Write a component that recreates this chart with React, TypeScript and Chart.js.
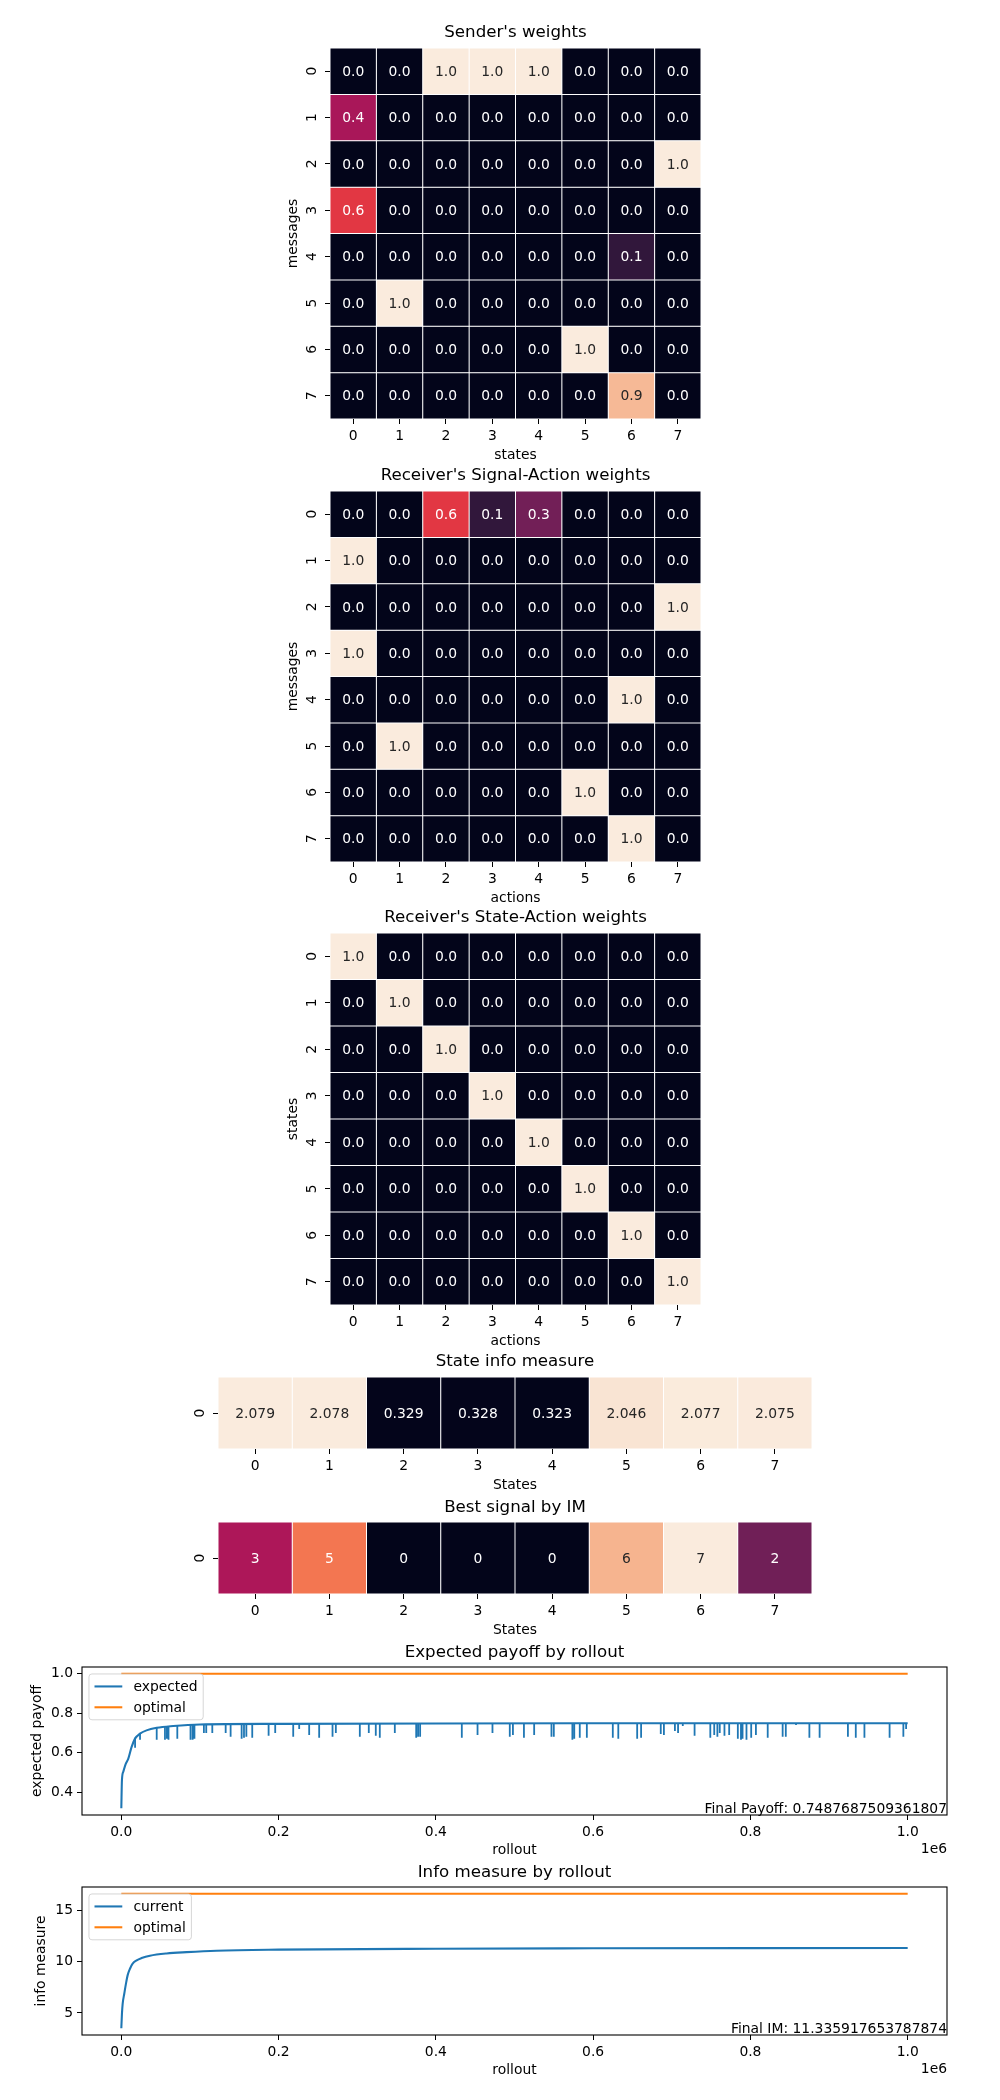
import React, { useEffect, useRef } from 'react';
import { Chart, registerables } from 'chart.js';

Chart.register(...registerables);

const FONT = "'DejaVu Sans', 'Liberation Sans', sans-serif";
const PT10 = 13.89;
const PT12 = 16.67;
const BLUE = '#1f77b4';
const ORANGE = '#ff7f0e';
const ANNOT_DARK = '#262626';

// ---------------- data ----------------
const stateTicks = ['0', '1', '2', '3', '4', '5', '6', '7'];
const messageTicks = ['0', '1', '2', '3', '4', '5', '6', '7'];
const actionTicks = ['0', '1', '2', '3', '4', '5', '6', '7'];
const singleRowTicks = ['0'];

const senderWeights = [
  [0, 0, 1, 1, 1, 0, 0, 0],
  [0.42, 0, 0, 0, 0, 0, 0, 0],
  [0, 0, 0, 0, 0, 0, 0, 1],
  [0.58, 0, 0, 0, 0, 0, 0, 0],
  [0, 0, 0, 0, 0, 0, 0.13, 0],
  [0, 1, 0, 0, 0, 0, 0, 0],
  [0, 0, 0, 0, 0, 1, 0, 0],
  [0, 0, 0, 0, 0, 0, 0.87, 0],
];

const signalActionWeights = [
  [0, 0, 0.58, 0.13, 0.29, 0, 0, 0],
  [1, 0, 0, 0, 0, 0, 0, 0],
  [0, 0, 0, 0, 0, 0, 0, 1],
  [1, 0, 0, 0, 0, 0, 0, 0],
  [0, 0, 0, 0, 0, 0, 1, 0],
  [0, 1, 0, 0, 0, 0, 0, 0],
  [0, 0, 0, 0, 0, 1, 0, 0],
  [0, 0, 0, 0, 0, 0, 1, 0],
];

const stateActionWeights = [
  [1, 0, 0, 0, 0, 0, 0, 0],
  [0, 1, 0, 0, 0, 0, 0, 0],
  [0, 0, 1, 0, 0, 0, 0, 0],
  [0, 0, 0, 1, 0, 0, 0, 0],
  [0, 0, 0, 0, 1, 0, 0, 0],
  [0, 0, 0, 0, 0, 1, 0, 0],
  [0, 0, 0, 0, 0, 0, 1, 0],
  [0, 0, 0, 0, 0, 0, 0, 1],
];

const stateInfoMeasure = [[2.079, 2.078, 0.329, 0.328, 0.323, 2.046, 2.077, 2.075]];
const bestSignalByIM = [[3, 5, 0, 0, 0, 6, 7, 2]];

const rolloutTicks = [0, 200000, 400000, 600000, 800000, 1000000];
const payoffTicks = [0.4, 0.6, 0.8, 1.0];
const infoTicks = [5, 10, 15];

const payoffRollout = [0, 800, 2500, 5900, 8900, 13100, 17400, 23700, 32000, 45000, 66000, 100000, 200000, 400000, 600000, 800000, 1000000];
const payoffValue = [0.318, 0.461, 0.503, 0.545, 0.57, 0.629, 0.671, 0.696, 0.713, 0.726, 0.735, 0.743, 0.746, 0.748, 0.749, 0.749, 0.7488];
const optimalPayoff = 1.0;

const dipRollout = [
  17500, 23800, 45000, 55500, 58000, 60000, 71200, 88000, 90700, 93000,
  105000, 108000, 115700, 132700, 139000, 153000, 156000, 159000, 166500, 187300,
  195700, 218600, 226200, 238900, 251600, 268600, 272800, 303300, 314700, 323600,
  328700, 347800, 375000, 377400, 380000, 433000, 453000, 472000, 494000, 498000,
  512000, 525000, 547000, 550000, 573600, 576000, 583000, 592000, 625000, 632000,
  656000, 661000, 686000, 690000, 704000, 708000, 714000, 729000, 749000, 754000,
  758000, 761000, 767000, 773000, 784000, 788000, 790000, 795000, 801000, 807000,
  822000, 841000, 845000, 858000, 875000, 888000, 924000, 934000, 945000, 977000,
  994500, 998000,
];
const dipTop = [
  0.675, 0.696, 0.726, 0.731, 0.732, 0.733, 0.736, 0.741, 0.741, 0.742,
  0.743, 0.743, 0.744, 0.744, 0.744, 0.745, 0.745, 0.745, 0.745, 0.746,
  0.746, 0.746, 0.746, 0.746, 0.746, 0.746, 0.746, 0.747, 0.747, 0.747,
  0.747, 0.747, 0.748, 0.748, 0.748, 0.748, 0.748, 0.748, 0.748, 0.748,
  0.748, 0.748, 0.749, 0.749, 0.749, 0.749, 0.749, 0.749, 0.749, 0.749,
  0.749, 0.749, 0.749, 0.749, 0.749, 0.749, 0.749, 0.749, 0.749, 0.749,
  0.749, 0.749, 0.749, 0.749, 0.749, 0.749, 0.749, 0.749, 0.749, 0.749,
  0.749, 0.749, 0.749, 0.749, 0.749, 0.749, 0.749, 0.749, 0.749, 0.749,
  0.749, 0.749,
];
const dipLow = [
  0.625, 0.665, 0.665, 0.665, 0.67, 0.665, 0.67, 0.665, 0.665, 0.67,
  0.7, 0.7, 0.7, 0.7, 0.68, 0.67, 0.675, 0.68, 0.675, 0.685,
  0.7, 0.68, 0.72, 0.69, 0.675, 0.68, 0.7, 0.68, 0.7, 0.685,
  0.675, 0.7, 0.675, 0.68, 0.68, 0.675, 0.69, 0.7, 0.68, 0.69,
  0.675, 0.69, 0.68, 0.68, 0.665, 0.67, 0.675, 0.675, 0.675, 0.67,
  0.67, 0.675, 0.695, 0.69, 0.71, 0.7, 0.735, 0.685, 0.675, 0.69,
  0.68, 0.7, 0.685, 0.69, 0.67, 0.665, 0.67, 0.665, 0.675, 0.69,
  0.675, 0.68, 0.68, 0.74, 0.675, 0.675, 0.68, 0.675, 0.675, 0.675,
  0.68, 0.72,
];

const imRollout = [0, 800, 1700, 3800, 5900, 8000, 11000, 14400, 19500, 25800, 36400, 57600, 83000, 121000, 200000, 400000, 600000, 800000, 1000000];
const imValue = [3.51, 4.94, 5.9, 6.9, 7.86, 8.67, 9.32, 9.81, 10.14, 10.36, 10.59, 10.81, 10.94, 11.08, 11.18, 11.27, 11.31, 11.33, 11.336];
const optimalIM = 16.636;

const finalPayoffText = 'Final Payoff: 0.7487687509361807';
const finalIMText = 'Final IM: 11.335917653787874';

// ---------------- layout ----------------
const HM_BOX = {
  sender: { L: 330, T: 48, R: 701, B: 419, titleY: 33, yTitleX: 293 },
  signalAction: { L: 330, T: 491, R: 701, B: 862, titleY: 476, yTitleX: 293 },
  stateAction: { L: 330, T: 933, R: 701, B: 1305, titleY: 918, yTitleX: 293 },
  stateInfo: { L: 218, T: 1377, R: 812, B: 1449, titleY: 1362, yTitleX: 0 },
  bestSignal: { L: 218, T: 1522, R: 812, B: 1594, titleY: 1508, yTitleX: 0 },
};
const LINE_BOX = {
  payoff: { L: 82, T: 1667, R: 947, B: 1815, titleY: 1653, yTitleX: 37 },
  info: { L: 82, T: 1887, R: 947, B: 2035, titleY: 1873, yTitleX: 41 },
};
const BELOW = 50;

// ---------------- helpers ----------------
const ROCKET = ['#03051a', '#35193e', '#701f57', '#ad1759', '#e13342', '#f37651', '#f6b48f', '#faebdd'];
function hexRgb(h: string) {
  return [parseInt(h.slice(1, 3), 16), parseInt(h.slice(3, 5), 16), parseInt(h.slice(5, 7), 16)];
}
function rocket(t: number) {
  const c = Math.min(1, Math.max(0, t));
  const s = c * (ROCKET.length - 1);
  const i = Math.min(Math.floor(s), ROCKET.length - 2);
  const f = s - i;
  const a = hexRgb(ROCKET[i]);
  const b = hexRgb(ROCKET[i + 1]);
  const m = a.map((v, k) => Math.round(v + (b[k] - v) * f));
  return `rgb(${m[0]},${m[1]},${m[2]})`;
}
function textColorFor(rgb: string) {
  const m = rgb.match(/\d+/g)!.map(Number).map((v) => v / 255);
  const lin = m.map((v) => (v <= 0.03928 ? v / 12.92 : Math.pow((v + 0.055) / 1.055, 2.4)));
  const lum = 0.2126 * lin[0] + 0.7152 * lin[1] + 0.0722 * lin[2];
  return lum > 0.408 ? ANNOT_DARK : '#ffffff';
}

function geometry(box: any) {
  const top = box.titleY - 22;
  const height = box.B + BELOW - top;
  return { top, height };
}

function titleOpts(text: string, box: any, top: number) {
  const half = PT12 * 0.6;
  return {
    display: true,
    fullSize: false,
    text,
    color: '#000',
    font: { family: FONT, size: PT12, weight: 'normal' as const, lineHeight: 1.2 },
    padding: { top: box.titleY - top - half, bottom: box.T - box.titleY - half },
  };
}

const tickFont = { family: FONT, size: PT10 };
const tickGrid = {
  display: true,
  drawOnChartArea: false,
  drawTicks: true,
  tickLength: 5,
  tickWidth: 1,
  tickColor: '#000',
  offset: false,
};

function heatmapPlugin(digits: number, yTicks: string[]) {
  return {
    id: 'heatmapAnnot',
    afterDatasetsDraw(chart: any) {
      const { ctx, chartArea } = chart;
      ctx.save();
      ctx.font = `${PT10}px ${FONT}`;
      ctx.textAlign = 'center';
      ctx.textBaseline = 'middle';
      chart.data.datasets.forEach((ds: any, i: number) => {
        const meta = chart.getDatasetMeta(i);
        meta.data.forEach((el: any, j: number) => {
          const p = el.getCenterPoint();
          ctx.fillStyle = textColorFor(ds.backgroundColor[j]);
          ctx.fillText(Number(ds.values[j]).toFixed(digits), p.x, p.y + 1);
        });
      });
      const ys = chart.scales.y;
      ys.ticks.forEach((t: any) => {
        const py = ys.getPixelForValue(t.value);
        ctx.save();
        ctx.translate(chartArea.left - 18, py);
        ctx.rotate(-Math.PI / 2);
        ctx.fillStyle = '#000';
        ctx.fillText(yTicks[t.value], 0, 0);
        ctx.restore();
      });
      ctx.restore();
    },
  };
}

function buildHeatmap(
  matrix: number[][],
  xTicks: string[],
  yTicks: string[],
  box: any,
  title: string,
  xTitle: string,
  yTitle: string,
  digits: number
) {
  const { top } = geometry(box);
  const flat = matrix.flat();
  const vmin = Math.min(...flat);
  const vmax = Math.max(...flat);
  const norm = (v: number) => (vmax > vmin ? (v - vmin) / (vmax - vmin) : 0);
  const datasets = matrix.map((row, r) => ({
    label: yTicks[r],
    data: row.map(() => [r - 0.5, r + 0.5]),
    values: row,
    backgroundColor: row.map((v) => rocket(norm(v))),
    borderColor: '#ffffff',
    borderWidth: 0.5,
    borderSkipped: false,
    inflateAmount: 0,
    barPercentage: 1,
    categoryPercentage: 1,
    grouped: false,
  }));
  return {
    type: 'bar',
    data: { labels: xTicks, datasets },
    options: {
      animation: false,
      responsive: false,
      events: [],
      layout: { padding: { left: 0, top: 0, bottom: 0, right: 1000 - box.R } },
      plugins: {
        legend: { display: false },
        tooltip: { enabled: false },
        title: titleOpts(title, box, top),
      },
      scales: {
        x: {
          type: 'category',
          offset: true,
          grid: tickGrid,
          border: { display: false },
          ticks: { color: '#000', font: tickFont, padding: 4, maxRotation: 0, autoSkip: false },
          title: {
            display: true,
            text: xTitle,
            color: '#000',
            font: tickFont,
            padding: { top: 0, bottom: BELOW - 36 - PT10 * 0.6 },
          },
          afterFit: (s: any) => {
            s.height = BELOW;
          },
        },
        y: {
          type: 'linear',
          min: -0.5,
          max: yTicks.length - 0.5,
          bounds: 'data',
          reverse: true,
          afterBuildTicks: (s: any) => {
            s.ticks = yTicks.map((_, i) => ({ value: i }));
          },
          grid: tickGrid,
          border: { display: false },
          ticks: { callback: () => '', padding: 4, font: tickFont },
          title: {
            display: !!yTitle,
            text: yTitle || '',
            color: '#000',
            font: tickFont,
            padding: { top: Math.max(0, box.yTitleX - PT10 * 0.6), bottom: 0 },
          },
          afterFit: (s: any) => {
            s.width = box.L;
          },
        },
      },
    },
    plugins: [heatmapPlugin(digits, yTicks)],
  };
}

function lineDecor(items: { label: string; color: string }[], note: string) {
  return {
    id: 'lineDecor',
    afterDatasetsDraw(chart: any) {
      const { ctx, chartArea: a } = chart;
      ctx.save();
      ctx.strokeStyle = '#000';
      ctx.lineWidth = 1.1;
      ctx.strokeRect(a.left, a.top, a.right - a.left, a.bottom - a.top);
      ctx.restore();
    },
    afterDraw(chart: any) {
      const { ctx, chartArea: a } = chart;
      ctx.save();
      ctx.font = `${PT10}px ${FONT}`;
      ctx.fillStyle = '#000';
      ctx.textAlign = 'right';
      ctx.textBaseline = 'bottom';
      ctx.fillText(note, a.right, a.bottom + 1);
      ctx.textBaseline = 'middle';
      ctx.fillText('1e6', a.right, a.bottom + 34);

      // legend (matplotlib style)
      const fs = PT10;
      const pad = 0.4 * fs;
      const hl = 2 * fs;
      const htp = 0.8 * fs;
      const ls = 0.5 * fs;
      const bap = 0.5 * fs;
      const tw = Math.max(...items.map((it) => ctx.measureText(it.label).width));
      const x0 = a.left + bap;
      const y0 = a.top + bap;
      const w = pad * 2 + hl + htp + tw;
      const h = pad * 2 + items.length * fs + (items.length - 1) * ls;
      ctx.beginPath();
      ctx.roundRect(x0, y0, w, h, 3);
      ctx.fillStyle = 'rgba(255,255,255,0.8)';
      ctx.fill();
      ctx.strokeStyle = 'rgba(204,204,204,0.8)';
      ctx.lineWidth = 1;
      ctx.stroke();
      items.forEach((it, i) => {
        const cy = y0 + pad + fs / 2 + i * (fs + ls);
        ctx.beginPath();
        ctx.moveTo(x0 + pad, cy);
        ctx.lineTo(x0 + pad + hl, cy);
        ctx.strokeStyle = it.color;
        ctx.lineWidth = 2.08;
        ctx.stroke();
        ctx.fillStyle = '#000';
        ctx.textAlign = 'left';
        ctx.textBaseline = 'middle';
        ctx.fillText(it.label, x0 + pad + hl + htp, cy + 1);
      });
      ctx.restore();
    },
  };
}

function margin5(lo: number, hi: number) {
  const d = (hi - lo) * 0.05;
  return [lo - d, hi + d];
}

function buildLine(opts: {
  box: any;
  title: string;
  yTitle: string;
  yTicks: number[];
  yDigits: number;
  yRange: number[];
  datasets: any[];
  legend: { label: string; color: string }[];
  note: string;
}) {
  const { box } = opts;
  const { top } = geometry(box);
  const xr = margin5(rolloutTicks[0], rolloutTicks[rolloutTicks.length - 1]);
  return {
    type: 'line',
    data: { datasets: opts.datasets },
    options: {
      animation: false,
      responsive: false,
      events: [],
      layout: { padding: { left: 0, top: 0, bottom: 0, right: 1000 - box.R } },
      plugins: {
        legend: { display: false },
        tooltip: { enabled: false },
        title: titleOpts(opts.title, box, top),
      },
      elements: { point: { radius: 0 } },
      scales: {
        x: {
          type: 'linear',
          min: xr[0],
          max: xr[1],
          bounds: 'data',
          afterBuildTicks: (s: any) => {
            s.ticks = rolloutTicks.map((v) => ({ value: v }));
          },
          grid: tickGrid,
          border: { display: false },
          ticks: {
            color: '#000',
            font: tickFont,
            padding: 4,
            maxRotation: 0,
            autoSkip: false,
            callback: (v: any) => (Number(v) / 1e6).toFixed(1),
          },
          title: {
            display: true,
            text: 'rollout',
            color: '#000',
            font: tickFont,
            padding: { top: 0, bottom: BELOW - 35 - PT10 * 0.6 },
          },
          afterFit: (s: any) => {
            s.height = BELOW;
          },
        },
        y: {
          type: 'linear',
          min: opts.yRange[0],
          max: opts.yRange[1],
          bounds: 'data',
          afterBuildTicks: (s: any) => {
            s.ticks = opts.yTicks.map((v) => ({ value: v }));
          },
          grid: tickGrid,
          border: { display: false },
          ticks: {
            color: '#000',
            font: tickFont,
            padding: 4,
            autoSkip: false,
            callback: (v: any) => Number(v).toFixed(opts.yDigits),
          },
          title: {
            display: true,
            text: opts.yTitle,
            color: '#000',
            font: tickFont,
            padding: { top: box.yTitleX - PT10 * 0.6, bottom: 0 },
          },
          afterFit: (s: any) => {
            s.width = box.L;
          },
        },
      },
    },
    plugins: [lineDecor(opts.legend, opts.note)],
  };
}

function payoffConfig() {
  const last = payoffRollout.length - 1;
  const dips: any[] = [];
  dipRollout.forEach((x, i) => {
    dips.push({ x, y: dipTop[i] }, { x, y: dipLow[i] }, { x, y: null });
  });
  const yr = margin5(Math.min(...payoffValue), optimalPayoff);
  return buildLine({
    box: LINE_BOX.payoff,
    title: 'Expected payoff by rollout',
    yTitle: 'expected payoff',
    yTicks: payoffTicks,
    yDigits: 1,
    yRange: yr,
    note: finalPayoffText,
    legend: [
      { label: 'expected', color: BLUE },
      { label: 'optimal', color: ORANGE },
    ],
    datasets: [
      {
        label: 'optimal',
        data: [
          { x: payoffRollout[0], y: optimalPayoff },
          { x: payoffRollout[last], y: optimalPayoff },
        ],
        borderColor: ORANGE,
        borderWidth: 2.08,
        pointRadius: 0,
      },
      {
        label: 'expected',
        data: payoffRollout.map((x, i) => ({ x, y: payoffValue[i] })),
        borderColor: BLUE,
        borderWidth: 2.08,
        pointRadius: 0,
        cubicInterpolationMode: 'monotone',
      },
      {
        label: 'expected dips',
        data: dips,
        borderColor: BLUE,
        borderWidth: 1.8,
        pointRadius: 0,
        spanGaps: false,
      },
    ],
  });
}

function infoConfig() {
  const last = imRollout.length - 1;
  const yr = margin5(Math.min(...imValue), optimalIM);
  return buildLine({
    box: LINE_BOX.info,
    title: 'Info measure by rollout',
    yTitle: 'info measure',
    yTicks: infoTicks,
    yDigits: 0,
    yRange: yr,
    note: finalIMText,
    legend: [
      { label: 'current', color: BLUE },
      { label: 'optimal', color: ORANGE },
    ],
    datasets: [
      {
        label: 'optimal',
        data: [
          { x: imRollout[0], y: optimalIM },
          { x: imRollout[last], y: optimalIM },
        ],
        borderColor: ORANGE,
        borderWidth: 2.08,
        pointRadius: 0,
      },
      {
        label: 'current',
        data: imRollout.map((x, i) => ({ x, y: imValue[i] })),
        borderColor: BLUE,
        borderWidth: 2.08,
        pointRadius: 0,
        cubicInterpolationMode: 'monotone',
      },
    ],
  });
}

function ChartCanvas({ box, build }: { box: any; build: () => any }) {
  const ref = useRef<HTMLCanvasElement>(null);
  const { top, height } = geometry(box);
  useEffect(() => {
    if (!ref.current) return;
    const chart = new Chart(ref.current, build() as any);
    return () => chart.destroy();
  }, []);
  return (
    <canvas
      ref={ref}
      width={1000}
      height={height}
      style={{ position: 'absolute', left: 0, top, width: 1000, height, display: 'block' }}
    />
  );
}

export default function App() {
  return (
    <div style={{ position: 'absolute', left: 0, top: 0, width: 1000, height: 2100, background: '#ffffff' }}>
      <ChartCanvas
        box={HM_BOX.sender}
        build={() => buildHeatmap(senderWeights, stateTicks, messageTicks, HM_BOX.sender, "Sender's weights", 'states', 'messages', 1)}
      />
      <ChartCanvas
        box={HM_BOX.signalAction}
        build={() =>
          buildHeatmap(signalActionWeights, actionTicks, messageTicks, HM_BOX.signalAction, "Receiver's Signal-Action weights", 'actions', 'messages', 1)
        }
      />
      <ChartCanvas
        box={HM_BOX.stateAction}
        build={() =>
          buildHeatmap(stateActionWeights, actionTicks, stateTicks, HM_BOX.stateAction, "Receiver's State-Action weights", 'actions', 'states', 1)
        }
      />
      <ChartCanvas
        box={HM_BOX.stateInfo}
        build={() => buildHeatmap(stateInfoMeasure, stateTicks, singleRowTicks, HM_BOX.stateInfo, 'State info measure', 'States', '', 3)}
      />
      <ChartCanvas
        box={HM_BOX.bestSignal}
        build={() => buildHeatmap(bestSignalByIM, stateTicks, singleRowTicks, HM_BOX.bestSignal, 'Best signal by IM', 'States', '', 0)}
      />
      <ChartCanvas box={LINE_BOX.payoff} build={payoffConfig} />
      <ChartCanvas box={LINE_BOX.info} build={infoConfig} />
    </div>
  );
}
